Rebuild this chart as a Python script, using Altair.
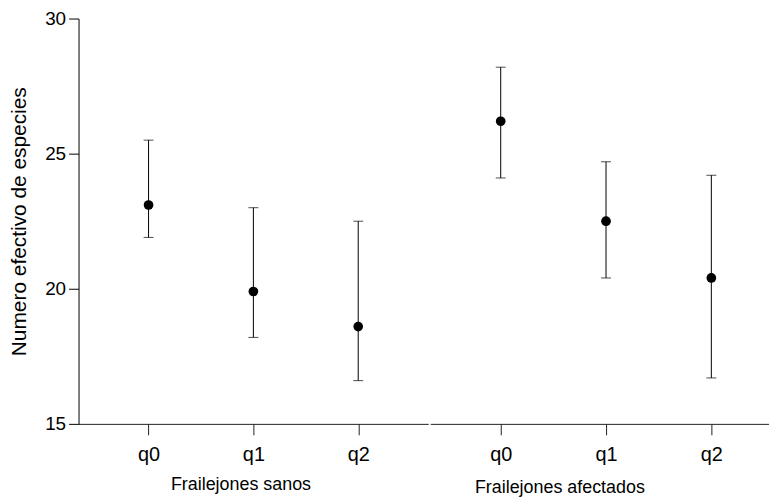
import altair as alt
import pandas as pd

q_labels = ["q0", "q1", "q2"]
sanos_mean = [23.1, 19.9, 18.6]
sanos_low = [21.9, 18.2, 16.6]
sanos_high = [25.5, 23.0, 22.5]
afect_mean = [26.2, 22.5, 20.4]
afect_low = [24.1, 20.4, 16.7]
afect_high = [28.2, 24.7, 24.2]

FONT = "Liberation Sans"


def panel(mean, low, high, title, width, padding, align, show_y, title_pad, title_x):
    df = pd.DataFrame({"q": q_labels, "mean": mean, "low": low, "high": high})
    xscale = alt.Scale(type="point", padding=padding, align=align)
    xaxis = alt.Axis(title=title, tickSize=11, labelPadding=10, titlePadding=title_pad,
                     titleX=title_x, titleAlign="center",
                     labelAngle=0, labelFontSize=20, titleFontSize=18, titleFontWeight="normal",
                     domainColor="#222222", tickColor="#222222", labelColor="black",
                     titleColor="black", labelFont=FONT, titleFont=FONT, grid=False)
    if show_y:
        yaxis = alt.Axis(title="Numero efectivo de especies", values=[15, 20, 25, 30],
                         tickSize=10, labelPadding=3, titlePadding=15, labelFontSize=19,
                         titleFontSize=21, titleFontWeight="normal", domainColor="black",
                         tickColor="black", labelColor="black", titleColor="black",
                         labelFont=FONT, titleFont=FONT, grid=False)
    else:
        yaxis = None
    yscale = alt.Scale(domain=[15, 30], nice=False, zero=False)
    base = alt.Chart(df)
    x = alt.X("q:N", sort=q_labels, scale=xscale, axis=xaxis)
    rule = base.mark_rule(color="black", strokeWidth=1).encode(
        x=x, y=alt.Y("low:Q", scale=yscale, axis=yaxis), y2="high:Q")
    cap_lo = base.mark_tick(color="black", size=10, thickness=1).encode(
        x=x, y=alt.Y("low:Q", scale=yscale))
    cap_hi = base.mark_tick(color="black", size=10, thickness=1).encode(
        x=x, y=alt.Y("high:Q", scale=yscale))
    pts = base.mark_circle(color="black", opacity=1, size=95).encode(
        x=x, y=alt.Y("mean:Q", scale=yscale))
    return alt.layer(rule, cap_lo, cap_hi, pts).properties(width=width, height=408)


left = panel(sanos_mean, sanos_low, sanos_high, "Frailejones sanos", 352, 0.668, 0.5, True, 11, 163)
right = panel(afect_mean, afect_low, afect_high, "Frailejones afectados", 341, 0.6085, 0.55, False, 14, 130)

chart = alt.hconcat(left, right, spacing=2).resolve_scale(x="independent", y="independent").properties(
    padding={"left": 0, "top": 0, "right": 0, "bottom": 0}
).configure(font=FONT, background="white", view=alt.ViewConfig(stroke=None))

chart.save("out.html", embed_options={"renderer": "svg", "actions": False})
